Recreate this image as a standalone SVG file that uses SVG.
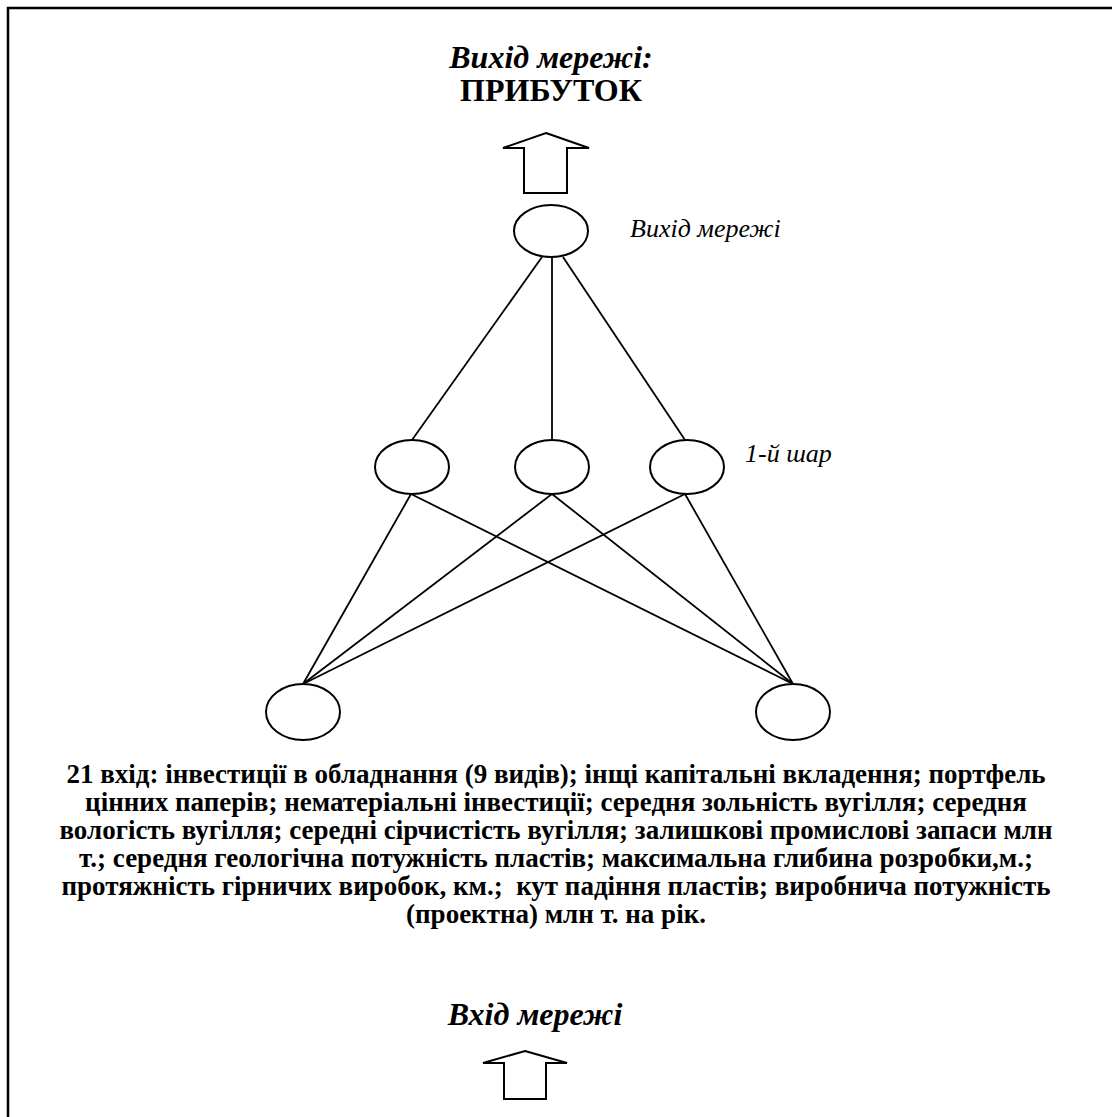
<svg xmlns="http://www.w3.org/2000/svg" width="1112" height="1117" viewBox="0 0 1112 1117">
  <style>
    .node { fill: #fff; stroke: #000; stroke-width: 2; }
    .edge { stroke: #000; stroke-width: 1.8; fill: none; }
    .arrow { fill: #fff; stroke: #000; stroke-width: 2; stroke-linejoin: miter; }
    .t { font-family: "Liberation Serif", "Times New Roman", serif; fill: #000; }
    .title { font-size: 32px; font-weight: bold; text-anchor: middle; }
    .lbl { font-size: 26px; font-style: italic; }
    .body { font-size: 27px; font-weight: bold; text-anchor: middle; }
  </style>

  <rect width="1112" height="1117" fill="#fff"/>
  <!-- frame -->
  <path d="M8,1117 V8 H1112" fill="none" stroke="#000" stroke-width="2.5"/>

  <!-- output caption -->
  <g id="output-caption">
    <text class="t title" x="551" y="68" font-style="italic">Вихід мережі:</text>
    <text class="t title" x="551" y="101">ПРИБУТОК</text>
  </g>

  <!-- output arrow -->
  <g id="output-arrow">
    <path class="arrow" d="M546,133 L589,148 L567,148 L567,193 L524,193 L524,148 L503,148 Z"/>
  </g>

  <!-- connectors -->
  <g id="connectors">
    <line class="edge" x1="542" y1="257" x2="412" y2="440"/>
    <line class="edge" x1="552" y1="257" x2="552" y2="440"/>
    <line class="edge" x1="563" y1="257" x2="685" y2="440"/>

    <line class="edge" x1="411" y1="494" x2="303" y2="684"/>
    <line class="edge" x1="411" y1="494" x2="793" y2="684"/>
    <line class="edge" x1="552" y1="494" x2="303" y2="684"/>
    <line class="edge" x1="552" y1="494" x2="793" y2="684"/>
    <line class="edge" x1="685" y1="494" x2="303" y2="684"/>
    <line class="edge" x1="685" y1="494" x2="793" y2="684"/>
  </g>

  <!-- output neuron -->
  <g id="node-out">
    <ellipse class="node" cx="551" cy="231" rx="37" ry="26"/>
    <text class="t lbl" x="630" y="237">Вихід мережі</text>
  </g>

  <!-- hidden layer -->
  <g id="node-h1">
    <ellipse class="node" cx="412" cy="467" rx="37" ry="27"/>
  </g>
  <g id="node-h2">
    <ellipse class="node" cx="552" cy="467" rx="37" ry="27"/>
  </g>
  <g id="node-h3">
    <ellipse class="node" cx="687" cy="467" rx="37" ry="27"/>
    <text class="t lbl" x="745" y="462">1-й шар</text>
  </g>

  <!-- input layer -->
  <g id="node-in1">
    <ellipse class="node" cx="303" cy="712" rx="37" ry="28"/>
  </g>
  <g id="node-in2">
    <ellipse class="node" cx="793" cy="712" rx="37" ry="28"/>
  </g>

  <!-- input description -->
  <g id="inputs-text">
    <text class="t body" x="556" y="783">21 вхід: інвестиції в обладнання (9 видів); інщі капітальні вкладення; портфель</text>
    <text class="t body" x="556" y="811">цінних паперів; нематеріальні інвестиції; середня зольність вугілля; середня</text>
    <text class="t body" x="556" y="839">вологість вугілля; середні сірчистість вугілля; залишкові промислові запаси млн</text>
    <text class="t body" x="556" y="867">т.; середня геологічна потужність пластів; максимальна глибина розробки,м.;</text>
    <text class="t body" x="556" y="895" xml:space="preserve">протяжність гірничих виробок, км.;  кут падіння пластів; виробнича потужність</text>
    <text class="t body" x="556" y="923">(проектна) млн т. на рік.</text>
  </g>

  <!-- input caption -->
  <g id="input-caption">
    <text class="t title" x="535" y="1025" font-style="italic">Вхід мережі</text>
  </g>

  <!-- input arrow -->
  <g id="input-arrow">
    <path class="arrow" d="M525,1051 L567,1063 L546,1063 L546,1099 L504,1099 L504,1063 L483,1063 Z"/>
  </g>
</svg>
